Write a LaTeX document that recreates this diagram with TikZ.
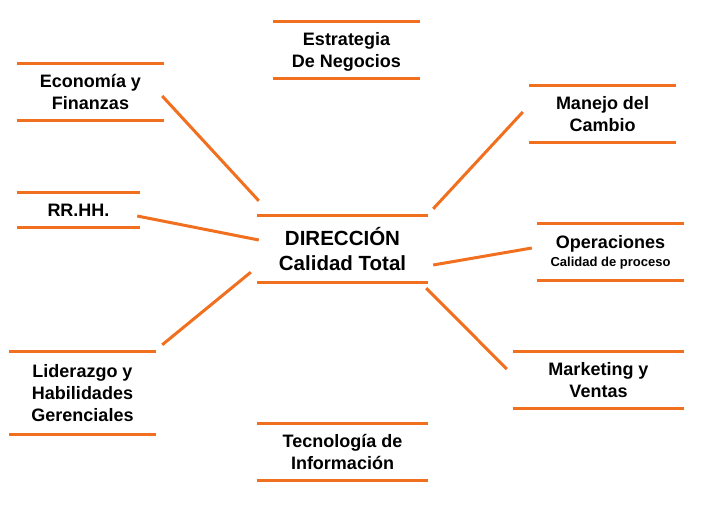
\documentclass[tikz,border=0pt]{standalone}
\usepackage{fontspec}
\setmainfont{Liberation Sans}
\usepackage{tikz}
\usetikzlibrary{calc}
\definecolor{naranja}{RGB}{240,112,32}

\begin{document}
\begin{tikzpicture}[x=1pt,y=-1pt,
	tema/.style={inner sep=0pt, align=center, font=\bfseries\fontsize{18}{22}\selectfont},
	raya/.style={naranja, line width=3pt}]
	
	\useasboundingbox (0,0) rectangle (703,519);
	
	\node[tema, minimum width=147, minimum height=56, text depth=0pt] (estr) at (346.5,50) {Estrategia\\De Negocios};
	\node[tema, minimum width=147, minimum height=56] (eco) at (90.5,92) {Econom\'ia y\\Finanzas};
	\node[tema, minimum width=123, minimum height=34] (rrhh) at (78.5,210) {RR.HH.};
	\node[tema, minimum width=171, minimum height=66, font=\bfseries\fontsize{20.5}{25}\selectfont] (centro) at (342.5,249) {DIRECCI\'ON\\Calidad Total};
	\node[tema, minimum width=147, minimum height=56] (manejo) at (602.5,114) {Manejo del\\Cambio};
	\node[tema, minimum width=147, minimum height=56] (oper) at (610.5,252) {Operaciones\\[-4pt]{\fontsize{13}{15}\selectfont Calidad de proceso}};
	\node[tema, minimum width=147, minimum height=82] (lider) at (82.5,393) {Liderazgo y\\Habilidades\\Gerenciales};
	\node[tema, minimum width=171, minimum height=56] (tec) at (342.5,452) {Tecnolog\'ia de\\Informaci\'on};
	\node[tema, minimum width=171, minimum height=56] (mkt) at (598.5,380) {Marketing y\\Ventas};
	
	\foreach \n in {estr,eco,rrhh,centro,manejo,oper,lider,tec,mkt}
		\draw[raya] (\n.north west) -- (\n.north east) (\n.south west) -- (\n.south east);
	
	\draw[raya] ([shift={(-2,4)}]eco.east) -- ([shift={(2,-15)}]centro.north west);
	\draw[raya] ([shift={(-3,6)}]rrhh.east) -- ([shift={(2,-9)}]centro.west);
	\draw[raya] ([shift={(6,-7)}]lider.north east) -- ([shift={(-6,-10)}]centro.south west);
	\draw[raya] ([shift={(-6,-2)}]manejo.west) -- ([shift={(5,-7)}]centro.north east);
	\draw[raya] ([shift={(-5,-4)}]oper.west) -- ([shift={(5,16)}]centro.east);
	\draw[raya] ([shift={(-6,-11)}]mkt.west) -- ([shift={(-2,6)}]centro.south east);
	
\end{tikzpicture}
\end{document}
